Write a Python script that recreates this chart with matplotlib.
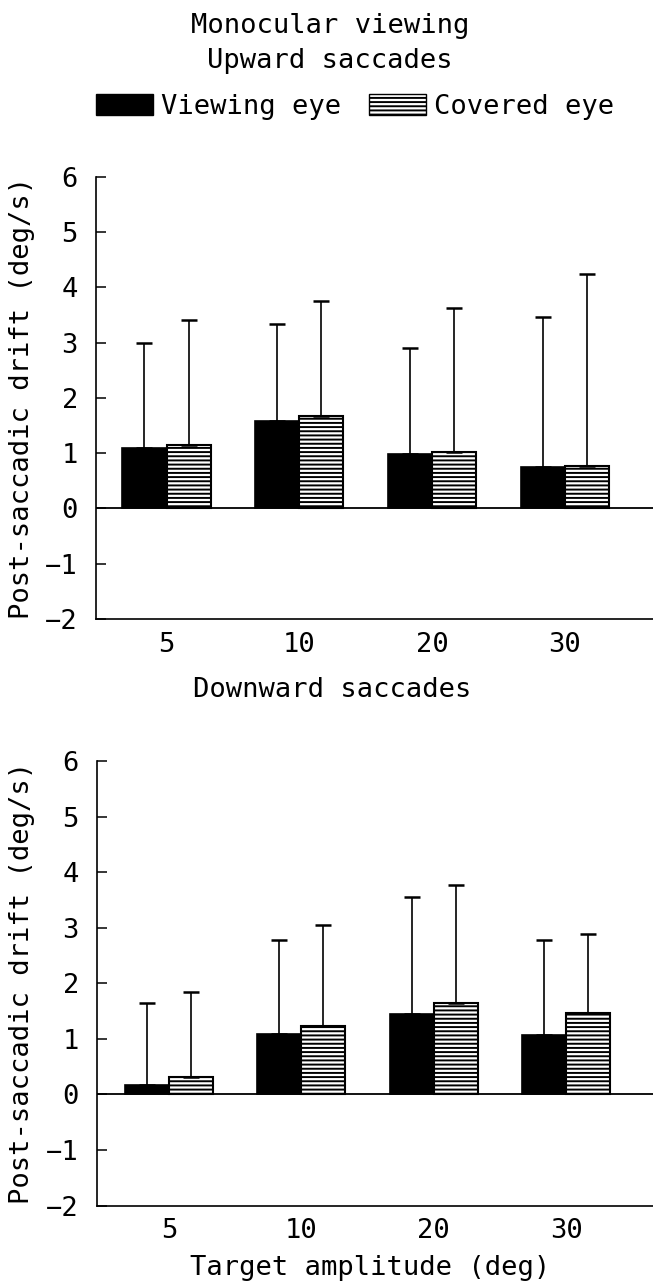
import matplotlib
matplotlib.use("Agg")
import matplotlib.pyplot as plt
from matplotlib.patches import Patch
import numpy as np

# ---- data ----
categories = ["5", "10", "20", "30"]
up_view = [1.09, 1.59, 0.99, 0.75]
up_view_sd = [1.91, 1.75, 1.91, 2.71]
up_cov = [1.15, 1.67, 1.02, 0.76]
up_cov_sd = [2.25, 2.09, 2.60, 3.48]
down_view = [0.16, 1.09, 1.44, 1.06]
down_view_sd = [1.49, 1.69, 2.12, 1.72]
down_cov = [0.32, 1.23, 1.65, 1.47]
down_cov_sd = [1.53, 1.82, 2.12, 1.41]
yticks = [-2, -1, 0, 1, 2, 3, 4, 5, 6]

FONT = "DejaVu Sans Mono"
FS = 19.5
plt.rcParams["font.family"] = FONT
plt.rcParams["hatch.linewidth"] = 1.4
plt.rcParams["hatch.color"] = "black"

W, H = 653, 1286
fig = plt.figure(figsize=(W / 100, H / 100), dpi=100)

def fx(px):
    return px / W

def fy(py):
    return 1 - py / H

bw = 0.332

def panel(rect, xlim, view, view_sd, cov, cov_sd):
    ax = fig.add_axes(rect)
    x = np.arange(len(categories))
    ax.bar(x - bw / 2, view, bw, color="black", edgecolor="black", linewidth=1.2,
           yerr=[np.zeros(len(view)), view_sd], capsize=6,
           error_kw=dict(elinewidth=1.2, capthick=1.8, ecolor="black"))
    ax.bar(x + bw / 2, cov, bw, color="white", edgecolor="black", linewidth=1.5,
           hatch="----",
           yerr=[np.zeros(len(cov)), cov_sd], capsize=6,
           error_kw=dict(elinewidth=1.2, capthick=1.8, ecolor="black"))
    ax.axhline(0, color="black", lw=1.3)
    ax.set_xlim(*xlim)
    ax.set_ylim(-2, 6)
    ax.set_yticks(yticks)
    ax.set_yticklabels([str(t).replace("-", "\u2212") for t in yticks])
    ax.set_xticks(x)
    ax.set_xticklabels(categories)
    ax.tick_params(axis="y", direction="in", length=7, width=1.1, pad=13, labelsize=FS)
    ax.tick_params(axis="x", length=0, pad=9, labelsize=FS)
    for s in ("top", "right"):
        ax.spines[s].set_visible(False)
    for s in ("left", "bottom"):
        ax.spines[s].set_linewidth(1.2)
    return ax

ax1 = panel([fx(96), fy(619), 1 - fx(96), fy(176.7) - fy(619)], (-0.531, 3.663),
            up_view, up_view_sd, up_cov, up_cov_sd)
ax2 = panel([fx(97), fy(1205.5), 1 - fx(97), fy(761) - fy(1205.5)], (-0.542, 3.654),
            down_view, down_view_sd, down_cov, down_cov_sd)

fig.text(fx(330), fy(26), "Monocular viewing", ha="center", va="center", fontsize=FS)
fig.text(fx(330), fy(61), "Upward saccades", ha="center", va="center", fontsize=FS)
fig.text(fx(332), fy(690), "Downward saccades", ha="center", va="center", fontsize=FS)
fig.text(fx(370), fy(1268), "Target amplitude (deg)", ha="center", va="center", fontsize=FS)
for ax, cy in ((ax1, (176.7 + 619) / 2), (ax2, (761 + 1205.5) / 2)):
    fig.text(fx(22), fy(cy), "Post-saccadic drift (deg/s)", rotation=90,
             ha="center", va="center", fontsize=FS)

handles = [Patch(facecolor="black", edgecolor="black", label="Viewing eye"),
           Patch(facecolor="white", edgecolor="black", hatch="----", label="Covered eye")]
fig.legend(handles=handles, loc="center", bbox_to_anchor=(fx(355), fy(107)), ncol=2,
           frameon=False, fontsize=FS, handlelength=2.1, handleheight=0.78,
           handletextpad=0.3, columnspacing=1.05, borderpad=0)

fig.savefig("out.png", dpi=100)
